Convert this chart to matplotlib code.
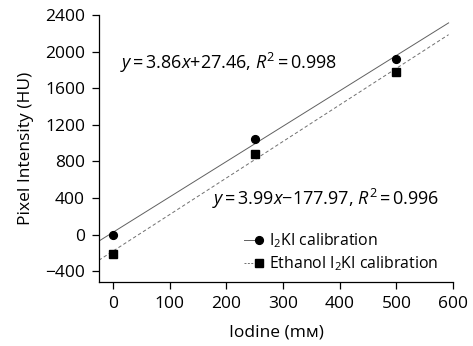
import matplotlib
matplotlib.use("Agg")
import matplotlib.pyplot as plt
from matplotlib.lines import Line2D
from matplotlib.legend_handler import HandlerTuple
import numpy as np

plt.rcParams['font.family'] = ['Open Sans', 'DejaVu Sans']
plt.rcParams['mathtext.fontset'] = 'custom'
plt.rcParams['mathtext.rm'] = 'Open Sans'
plt.rcParams['mathtext.it'] = 'Open Sans:italic'

# data
iodine = [0, 250, 500]
i2ki = [0, 1040, 1922]
ethanol_i2ki = [-210, 884, 1775]

# fitted lines
fit_slope = [3.86, 3.99]
fit_icept = [27.46, -177.97]
fit_range = [-25, 592]

fig = plt.figure(figsize=(4.73, 3.46), dpi=100)
ax = fig.add_axes([0.209, 0.185, 0.749, 0.772])

xs = np.array(fit_range)
ax.plot(xs, fit_slope[0] * xs + fit_icept[0], color='#606060', lw=0.7, ls='-')
ax.plot(xs, fit_slope[1] * xs + fit_icept[1], color='#707070', lw=0.7, ls=(0, (3.5, 2.5)))
ax.plot(iodine, i2ki, 'o', color='black', ms=5.6)
ax.plot(iodine, ethanol_i2ki, 's', color='black', ms=5.2)

ax.set_xlim(-25, 600)
ax.set_ylim(-515, 2400)
ax.set_xticks([0, 100, 200, 300, 400, 500, 600])
ax.set_yticks([-400, 0, 400, 800, 1200, 1600, 2000, 2400])
ax.set_yticklabels(['\u2212400', '0', '400', '800', '1200', '1600', '2000', '2400'])
ax.spines['top'].set_visible(False)
ax.spines['right'].set_visible(False)
for s in ['left', 'bottom']:
    ax.spines[s].set_linewidth(0.9)
ax.tick_params(labelsize=12.5, length=5, width=0.9, pad=5)
ax.set_xlabel('Iodine (m\u043c)', fontsize=12.5, labelpad=9)
ax.set_ylabel('Pixel Intensity (HU)', fontsize=12.5, labelpad=8)

ax.text(12, 1874, r'$y\,$=$\,$3.86$x$+27.46, $R^2\,$=$\,$0.998', fontsize=13, va='center')
ax.text(175, 395, r'$y\,$=$\,$3.99$x$$-$177.97, $R^2\,$=$\,$0.996', fontsize=13, va='center')

h1 = (Line2D([], [], color='#606060', lw=0.7), Line2D([], [], marker='o', color='black', ls='none', ms=5.6))
h2 = (Line2D([], [], color='#707070', lw=0.7, ls=(0, (2, 1.5))), Line2D([], [], marker='s', color='black', ls='none', ms=5.2))
ax.legend([h1, h2], [r'I$_2$KI calibration', r'Ethanol I$_2$KI calibration'],
          handler_map={tuple: HandlerTuple(ndivide=2, pad=0)},
          loc='upper left', bbox_to_anchor=(0.41, 0.19), frameon=False,
          borderpad=0, borderaxespad=0,
          fontsize=11.4, handlelength=1.25, handletextpad=0.3, labelspacing=0.3)

fig.savefig('out.png', dpi=100)
